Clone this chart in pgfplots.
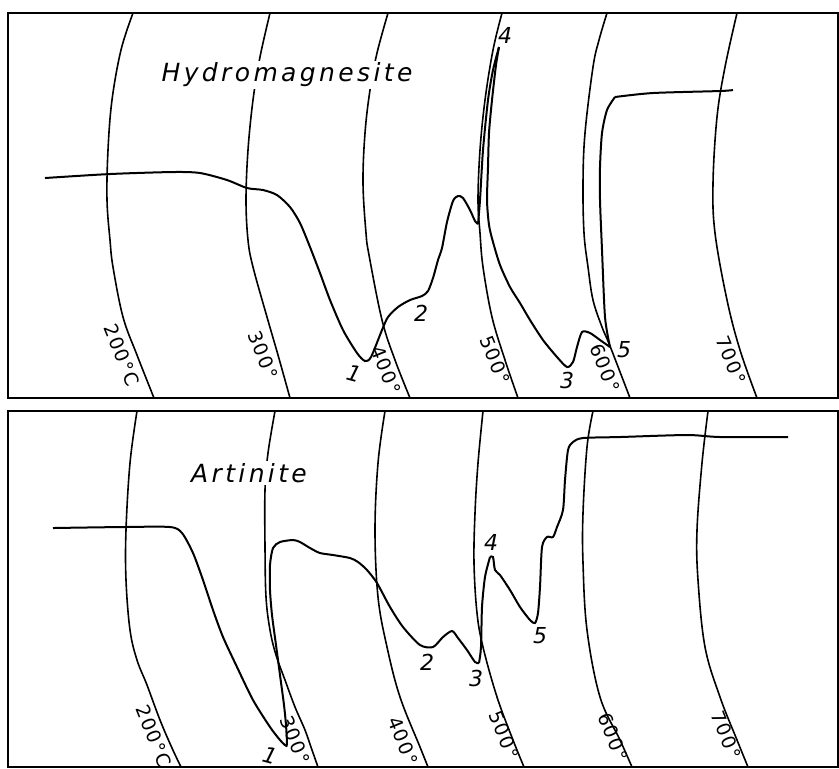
\documentclass[border=0pt]{standalone}
\usepackage{pgfplots}
\pgfplotsset{compat=1.18}
\usepackage{fontspec}
\setmainfont{DejaVu Sans}
\newfontfamily\ttl[LetterSpace=13.5]{DejaVu Sans}
\newfontfamily\lbl[LetterSpace=8]{DejaVu Sans}
\pgfplotsset{
  panel/.style={scale only axis, anchor=north west, xmin=8, xmax=838, y dir=reverse,
    xtick=\empty, ytick=\empty, axis line style={line width=1pt}, clip=true,
    every axis plot/.append style={black}},
  arc/.style={line width=0.8pt, smooth, tension=0.6, no marks},
  dta/.style={line width=1pt, smooth, tension=0.45, no marks},
}
\tikzset{
  deg/.style={rotate=-68, font=\lbl\fontsize{9.5}{10}\selectfont, inner sep=0pt},
  num/.style={font=\fontsize{11}{11}\selectfont\itshape, inner sep=0pt},
}
\begin{document}
\begin{tikzpicture}
\path[use as bounding box] (0,0) rectangle (419.5pt,-384pt);
% ---------------- top panel ----------------
\begin{axis}[panel, at={(4pt,-6.5pt)}, width=415pt, height=192.5pt, ymin=13, ymax=398]
\addplot[arc] coordinates {(133,13)(121,50)(112,100)(108,150)(107,200)(110,240)(113,267)(123,317)(137,355)(154,398)};
\addplot[arc] coordinates {(270,13)(260,57)(253,100)(248,150)(246,200)(248,240)(253,267)(267,317)(278,355)(290,398)};
\addplot[arc] coordinates {(388,13)(377,53)(370,90)(365,133)(363,183)(366,233)(369,255)(382,320)(395,360)(410,398)};
\addplot[arc] coordinates {(502,13)(493,50)(485,100)(480,150)(478,200)(480,233)(483,267)(492,317)(505,360)(518,398)};
\addplot[arc] coordinates {(607,13)(599,40)(593,67)(585,133)(583,183)(584,233)(588,267)(593,300)(602,327)(610,346)(630,398)};
\addplot[arc] coordinates {(737,13)(725,67)(717,117)(713,183)(715,233)(727,300)(740,350)(757,398)};
% DTA curve
\addplot[dta] coordinates {(45,178)(110,174)(173,172)(200,173)(227,180)(247,188)(263,190)(277,195)(290,207)(300,223)(310,247)(320,273)(330,300)(343,330)(357,353)(365,361)(371,357)(382,330)(388,317)(398,307)(410,300)(422,296)(428,291)(433,278)(438,260)(442,248)(447,222)(453,201)(458,196)(463,198)(470,210)(475,221)(478,224)};
\addplot[dta] coordinates {(478,224)(480,200)(483,150)(488,100)(493,70)(499,47)};
\addplot[dta] coordinates {(499,47)(496,65)(492,100)(489,133)(488,167)(487,200)(489,225)(493,242)(500,265)(510,287)(520,303)(530,320)(543,340)(557,357)(567,367)(573,362)(577,347)(582,332)(590,333)(600,340)(610,347)};
\addplot[dta] coordinates {(610,347)(605,317)(602,250)(600,200)(600,167)(602,133)(607,110)(615,97)};
\addplot[dta] coordinates {(615,97)(653,93)(720,91)(733,90)};
% labels
\node[fill=white, inner sep=1pt, font=\ttl\fontsize{12.5}{13}\selectfont\itshape] at (axis cs:287,75) {Hydromagnesite};
\node[deg] at (axis cs:122,355) {200°C};
\node[deg] at (axis cs:263,355) {300°};
\node[deg] at (axis cs:386,370) {400°};
\node[deg] at (axis cs:495,360) {500°};
\node[deg] at (axis cs:605,368) {600°};
\node[deg] at (axis cs:731,360) {700°};
\node[num, rotate=-15] at (axis cs:354,374) {1};
\node[num] at (axis cs:421,313) {2};
\node[num] at (axis cs:567,380) {3};
\node[num] at (axis cs:505,35) {4};
\node[num] at (axis cs:624,350) {5};
\end{axis}
% ---------------- bottom panel ----------------
\begin{axis}[panel, at={(4pt,-205.5pt)}, width=415pt, height=178pt, ymin=411, ymax=767]
\addplot[arc] coordinates {(137,411)(130,463)(126,530)(126,580)(130,630)(137,660)(147,685)(160,720)(172,748)(181,767)};
\addplot[arc] coordinates {(275,411)(268,453)(265,490)(265,547)(266,597)(270,630)(276,655)(285,680)(295,707)(305,730)(312,750)(318,767)};
\addplot[arc] coordinates {(385,411)(378,463)(375,530)(378,597)(387,647)(400,697)(420,747)(428,767)};
\addplot[arc] coordinates {(483,411)(478,463)(475,513)(474,563)(477,613)(483,647)(497,697)(513,740)(524,767)};
\addplot[arc] coordinates {(593,411)(587,447)(583,513)(583,563)(587,630)(600,697)(620,740)(632,767)};
\addplot[arc] coordinates {(708,411)(702,463)(697,530)(698,580)(705,647)(720,697)(737,740)(748,767)};
% DTA curve
\addplot[dta] coordinates {(53,528)(123,527)(170,527)(182,533)(193,553)(203,580)(213,610)(223,637)(237,667)(253,700)(270,727)(280,740)(286,746)};
\addplot[dta] coordinates {(286,746)(287,744)(286,725)(284,705)(280,675)(276,645)(272,615)(270,590)(270,565)(273,548)(280,542)(293,540)(300,542)(310,548)(320,553)(333,555)(350,558)(358,562)(367,570)(377,583)(390,607)(403,627)(420,645)(433,647)(443,637)(452,631)(458,638)(467,650)(475,662)(479,663)};
\addplot[dta] coordinates {(479,663)(481,647)(482,607)(485,577)(490,557)};
\addplot[dta] coordinates {(490,557)(493,557)(495,570)(500,575)(510,590)(520,607)(530,620)(535,623)(538,613)(540,587)(542,547)(547,537)(553,537)(557,527)(563,510)(565,480)(568,450)(573,442)(583,438)(620,437)(687,435)(720,437)(788,437)};
% labels
\node[fill=white, inner sep=1pt, font=\ttl\fontsize{12.5}{13}\selectfont\itshape] at (axis cs:249,473) {Artinite};
\node[deg] at (axis cs:154,736) {200°C};
\node[deg] at (axis cs:295,740) {300°};
\node[deg] at (axis cs:403,741) {400°};
\node[deg] at (axis cs:504,735) {500°};
\node[deg] at (axis cs:613,737) {600°};
\node[deg] at (axis cs:726,735) {700°};
\node[num, rotate=-15] at (axis cs:270,756) {1};
\node[num] at (axis cs:427,662) {2};
\node[num] at (axis cs:476,678) {3};
\node[num] at (axis cs:491,542) {4};
\node[num] at (axis cs:540,636) {5};
\end{axis}
\end{tikzpicture}
\end{document}
